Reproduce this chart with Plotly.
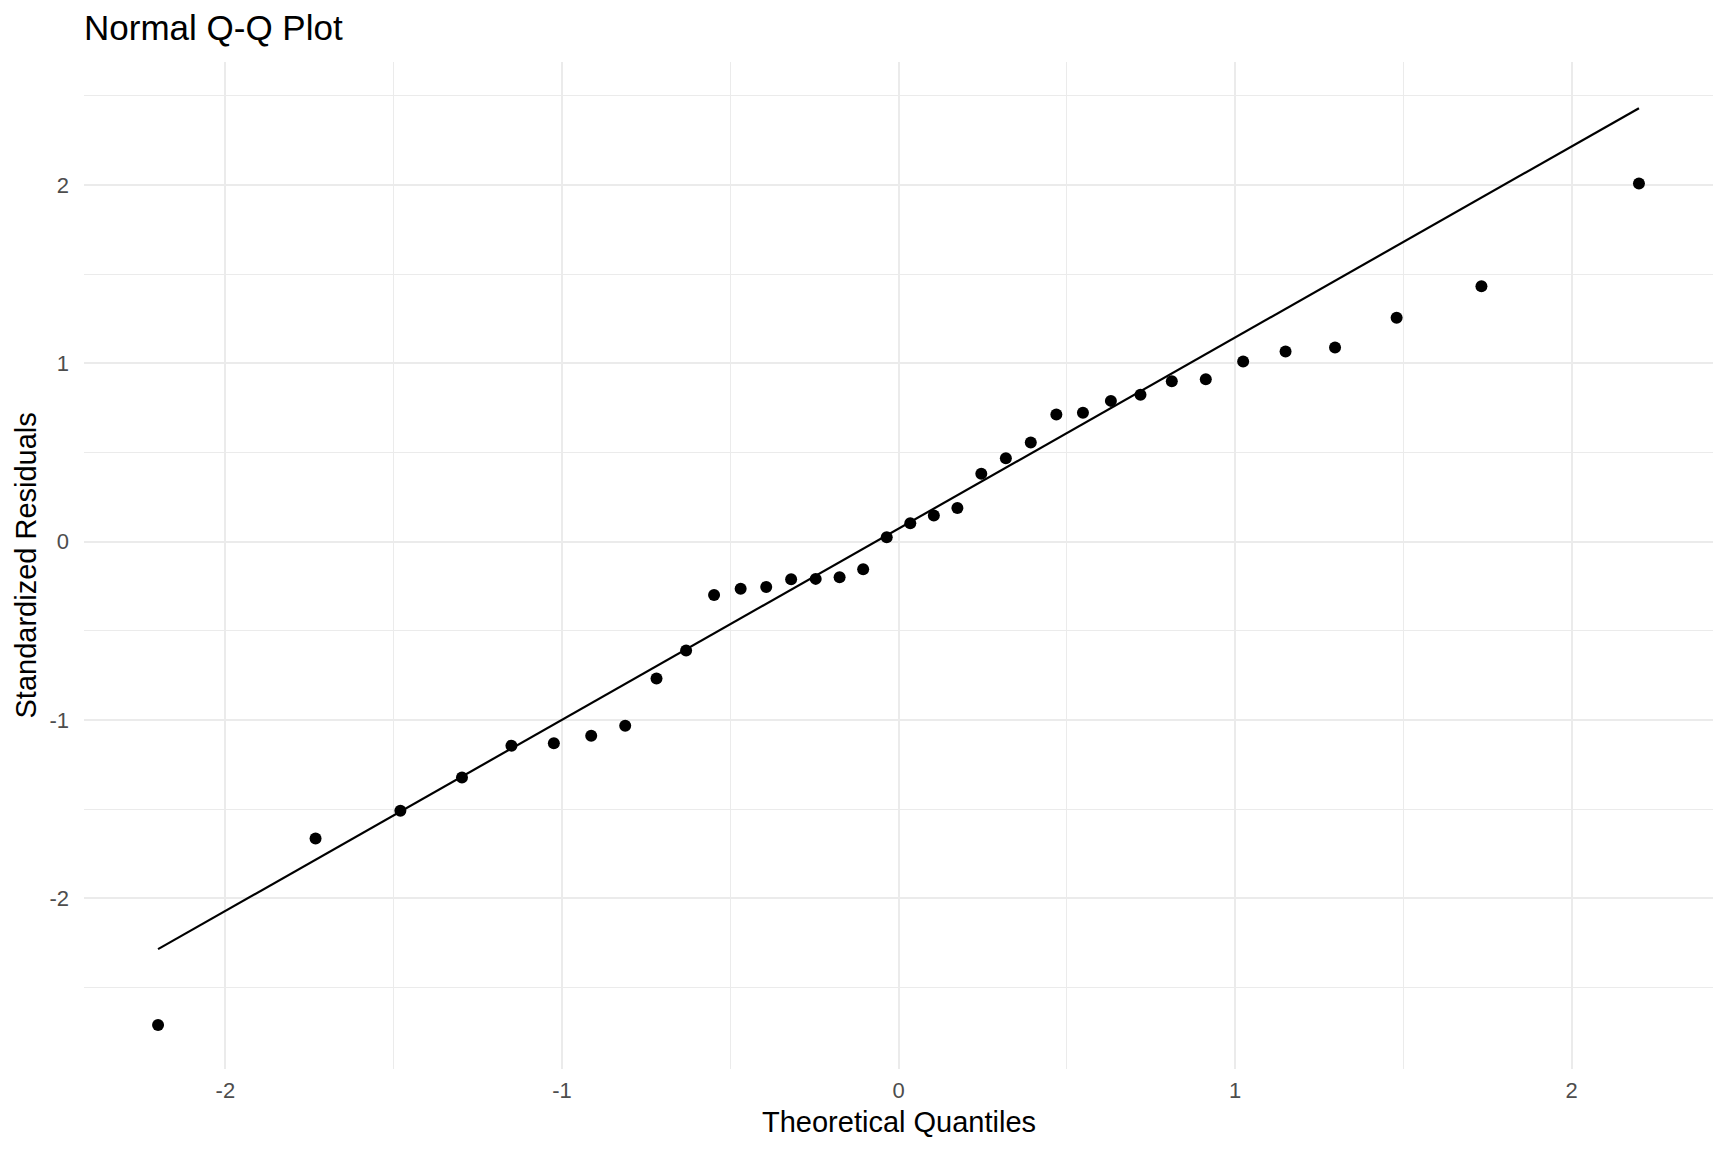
"""
Normal Q-Q plot of standardized residuals (ggplot theme_minimal look) in Plotly.
"""
import plotly.graph_objects as go

# ── Data ─────────────────────────────────────────────────────────────────────
theoretical = [-2.200, -1.732, -1.480, -1.297, -1.150, -1.024, -0.913, -0.812,
               -0.719, -0.631, -0.548, -0.469, -0.393, -0.319, -0.246, -0.175,
               -0.105, -0.035, 0.035, 0.105, 0.175, 0.246, 0.319, 0.393,
               0.469, 0.548, 0.631, 0.719, 0.812, 0.913, 1.024, 1.150,
               1.297, 1.480, 1.732, 2.200]
residuals = [-2.710, -1.664, -1.509, -1.322, -1.144, -1.131, -1.088, -1.032,
             -0.767, -0.611, -0.299, -0.265, -0.254, -0.211, -0.209, -0.200,
             -0.155, 0.024, 0.103, 0.146, 0.189, 0.380, 0.467, 0.555,
             0.712, 0.722, 0.789, 0.823, 0.899, 0.910, 1.010, 1.066,
             1.088, 1.255, 1.432, 2.008]

# reference line (qqline) end points
line_x = [-2.200, 2.200]
line_y = [-2.285, 2.430]

x_ticks = [-2, -1, 0, 1, 2]
x_tick_text = ['-2', '-1', '0', '1', '2']
x_minor = [-1.5, -0.5, 0.5, 1.5]
y_ticks = [-2, -1, 0, 1, 2]
y_tick_text = ['-2', '-1', '0', '1', '2']
y_minor = [-2.5, -1.5, -0.5, 0.5, 1.5, 2.5]

# ── Style ────────────────────────────────────────────────────────────────────
FONT = 'Liberation Sans, Arial, Helvetica, sans-serif'
GRID = '#EBEBEB'
TICK = '#4D4D4D'

# page body has an 8px margin, so the figure is a little smaller than the window
W, H = 1712, 1136

fig = go.Figure()

fig.add_trace(go.Scatter(
    x=line_x, y=line_y,
    mode='lines',
    line=dict(color='black', width=2.2),
    showlegend=False,
    hoverinfo='skip',
))

fig.add_trace(go.Scatter(
    x=theoretical, y=residuals,
    mode='markers',
    marker=dict(color='black', size=12, line=dict(width=0)),
    showlegend=False,
    hovertemplate='%{x:.3f}, %{y:.3f}<extra></extra>',
))

axis_common = dict(
    showline=False,
    zeroline=False,
    ticks='',
    showgrid=True,
    gridcolor=GRID,
    gridwidth=2.2,
    tickfont=dict(family=FONT, size=22, color=TICK),
    automargin=False,
)

fig.update_layout(
    width=W, height=H,
    paper_bgcolor='white',
    plot_bgcolor='white',
    font=dict(family=FONT, color='black'),
    margin=dict(l=76, r=7, t=54, b=75),
    title=dict(
        text='Normal Q-Q Plot',
        font=dict(family=FONT, size=35, color='black'),
        xref='paper', x=0, xanchor='left',
        yref='container', y=1 - 20 / H, yanchor='middle',
    ),
    xaxis=dict(
        range=[-2.42, 2.42],
        tickmode='array', tickvals=x_ticks, ticktext=x_tick_text,
        ticklabelstandoff=6,
        minor=dict(tickmode='array', tickvals=x_minor, showgrid=True,
                   gridcolor=GRID, gridwidth=1.1, ticks=''),
        **axis_common,
    ),
    yaxis=dict(
        range=[-2.957, 2.689],
        tickmode='array', tickvals=y_ticks, ticktext=y_tick_text,
        ticklabelstandoff=14,
        minor=dict(tickmode='array', tickvals=y_minor, showgrid=True,
                   gridcolor=GRID, gridwidth=1.1, ticks=''),
        **axis_common,
    ),
    annotations=[
        dict(text='Theoretical Quantiles', xref='paper', yref='paper',
             x=0.5, y=(1069 - 1122) / 1007, xanchor='center', yanchor='middle',
             showarrow=False, font=dict(family=FONT, size=29, color='black')),
        dict(text='Standardized Residuals', xref='paper', yref='paper',
             x=(25 - 84) / 1629, y=0.5, xanchor='center', yanchor='middle',
             textangle=-90, showarrow=False,
             font=dict(family=FONT, size=29, color='black')),
    ],
)

fig.write_html('out.html')
